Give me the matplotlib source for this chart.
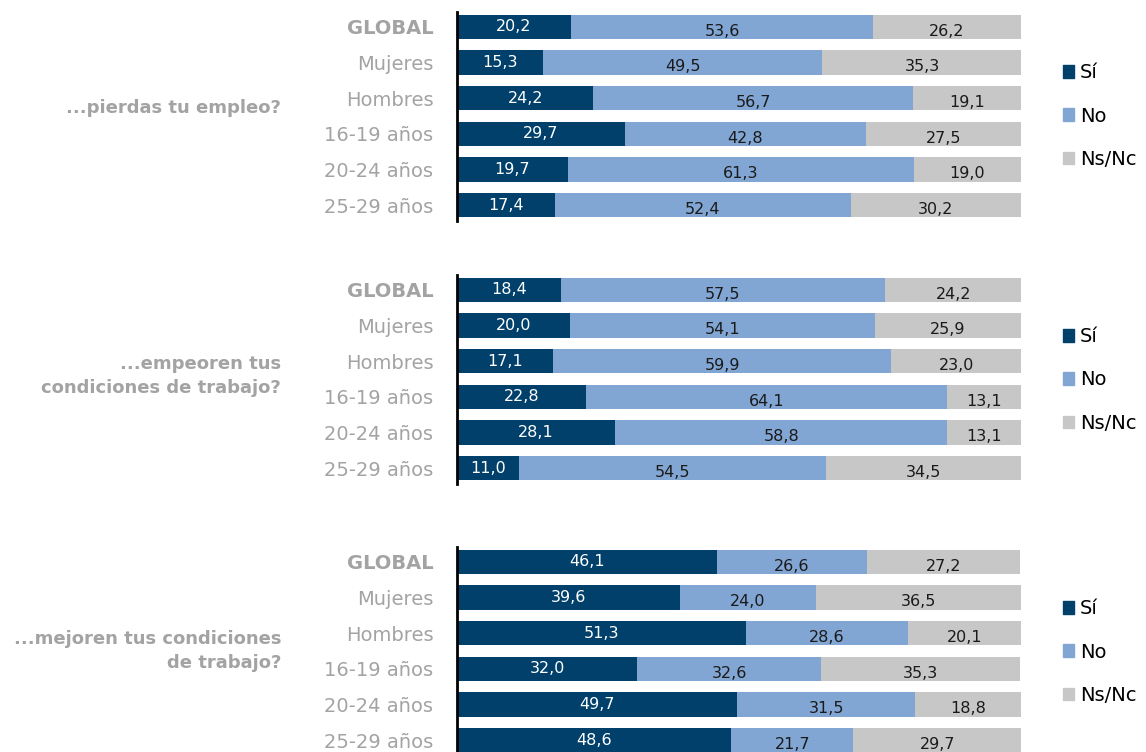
import matplotlib.pyplot as plt
from matplotlib.patches import Patch

plt.rcParams['font.family'] = ['DejaVu Sans']

# categories and series
categories = ['GLOBAL', 'Mujeres', 'Hombres', '16-19 años', '20-24 años', '25-29 años']
series_names = ['Sí', 'No', 'Ns/Nc']
questions = ['...pierdas tu empleo?',
             '...empeoren tus\ncondiciones de trabajo?',
             '...mejoren tus condiciones\nde trabajo?']

si_empleo = [20.2, 15.3, 24.2, 29.7, 19.7, 17.4]
no_empleo = [53.6, 49.5, 56.7, 42.8, 61.3, 52.4]
ns_empleo = [26.2, 35.3, 19.1, 27.5, 19.0, 30.2]

si_empeoren = [18.4, 20.0, 17.1, 22.8, 28.1, 11.0]
no_empeoren = [57.5, 54.1, 59.9, 64.1, 58.8, 54.5]
ns_empeoren = [24.2, 25.9, 23.0, 13.1, 13.1, 34.5]

si_mejoren = [46.1, 39.6, 51.3, 32.0, 49.7, 48.6]
no_mejoren = [26.6, 24.0, 28.6, 32.6, 31.5, 21.7]
ns_mejoren = [27.2, 36.5, 20.1, 35.3, 18.8, 29.7]

panels = [
    (si_empleo, no_empleo, ns_empleo),
    (si_empeoren, no_empeoren, ns_empeoren),
    (si_mejoren, no_mejoren, ns_mejoren),
]

colors = ['#00406B', '#82A6D3', '#C7C7C7']
text_colors = ['white', '#1A1A1A', '#1A1A1A']
grey = '#A3A3A3'

W, H = 1146, 752
fig = plt.figure(figsize=(W / 100, H / 100), dpi=100)

# pixel layout: (top, bottom) of each panel, question label y, legend center y
panel_px = [(9, 223), (272, 486), (544, 758)]
question_y = [108, 376, 651]
legend_y = [116, 380, 652]
x0, x1 = 457, 1021

for k, (vals, (top, bot)) in enumerate(zip(panels, panel_px)):
    ax = fig.add_axes([x0 / W, 1 - bot / H, (x1 - x0) / W, (bot - top) / H])
    ypos = list(range(len(categories)))
    left = [0] * len(categories)
    for s, v in enumerate(vals):
        ax.barh(ypos, v, left=left, height=0.68, color=colors[s], linewidth=0)
        for i, (l, val) in enumerate(zip(left, v)):
            dy = 0.0 if s == 0 else 0.12
            ax.text(l + val / 2, i + dy, f'{val:.1f}'.replace('.', ','),
                    ha='center', va='center', fontsize=11.5, color=text_colors[s])
        left = [a + b for a, b in zip(left, v)]

    ax.set_xlim(0, 100)
    ax.set_ylim(5.5, -0.5)
    ax.set_yticks(ypos)
    ax.set_yticklabels(categories, fontsize=14, color=grey)
    ax.get_yticklabels()[0].set_fontweight('bold')
    ax.tick_params(axis='y', length=0, pad=17)
    ax.set_xticks([])
    for sp in ['top', 'right', 'bottom']:
        ax.spines[sp].set_visible(False)
    ax.spines['left'].set_linewidth(2)
    ax.spines['left'].set_color('black')
    ax.spines['left'].set_bounds(-0.42, 5.45)

    fig.text(281 / W, 1 - question_y[k] / H, questions[k], ha='right', va='center',
             fontsize=13, color=grey, fontweight='bold', multialignment='right',
             linespacing=1.4)

    handles = [Patch(color=c) for c in colors]
    fig.legend(handles, series_names, loc='center left',
               bbox_to_anchor=(1053 / W, 1 - legend_y[k] / H),
               frameon=False, fontsize=14, handlelength=0.6, handleheight=0.6,
               handletextpad=0.3, labelspacing=1.25, borderpad=0)

plt.savefig('out.png', dpi=100)
